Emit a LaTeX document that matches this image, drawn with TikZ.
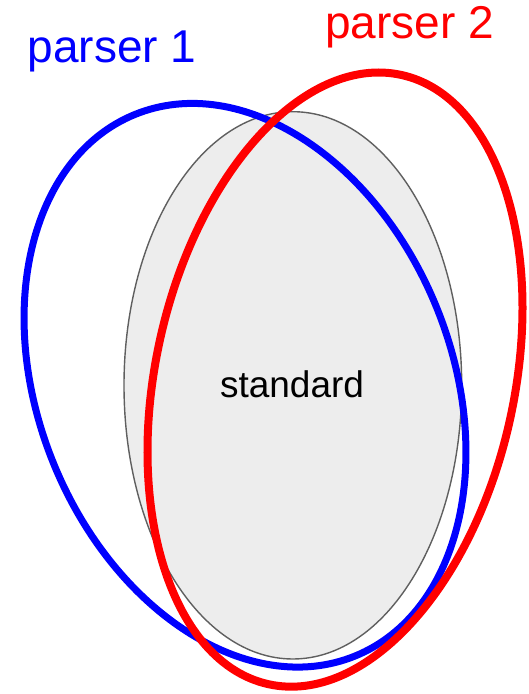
\documentclass[tikz,border=0pt]{standalone}
\usepackage{fontspec}
\setmainfont{Liberation Sans}
\definecolor{stdfill}{HTML}{EDEDED}
\definecolor{stdline}{HTML}{5F5F5F}
\begin{document}
\begin{tikzpicture}[x=1pt,y=1pt,
  stdset/.style={fill=stdfill,draw=stdline,line width=1.4pt},
  parserone/.style={draw=blue,line width=7pt},
  parsertwo/.style={draw=red,line width=8pt},
  biglabel/.style={inner sep=0pt,font=\fontsize{46}{52}\selectfont},
  stdlabel/.style={inner sep=0pt,font=\fontsize{37}{43}\selectfont}]
\useasboundingbox (0,0) rectangle (529,694);
\path[stdset] (292.85,308.65) ellipse [x radius=168.85, y radius=273.65];
\path[parserone, rotate around={22.1:(245,308.75)}] (245,308.75) ellipse [x radius=206.8, y radius=292.3];
\path[parsertwo, rotate around={-12.24:(335,314.4)}] (335,314.4) ellipse [x radius=179.5, y radius=311.8];
\node[stdlabel, anchor=base] (std) at (292,296.7) {standard};
\node[biglabel, anchor=base west, text=blue] (p1) at (27.6,631.7) {parser 1};
\node[biglabel, anchor=base west, text=red] (p2) at (325.2,655.7) {parser 2};
\end{tikzpicture}
\end{document}
